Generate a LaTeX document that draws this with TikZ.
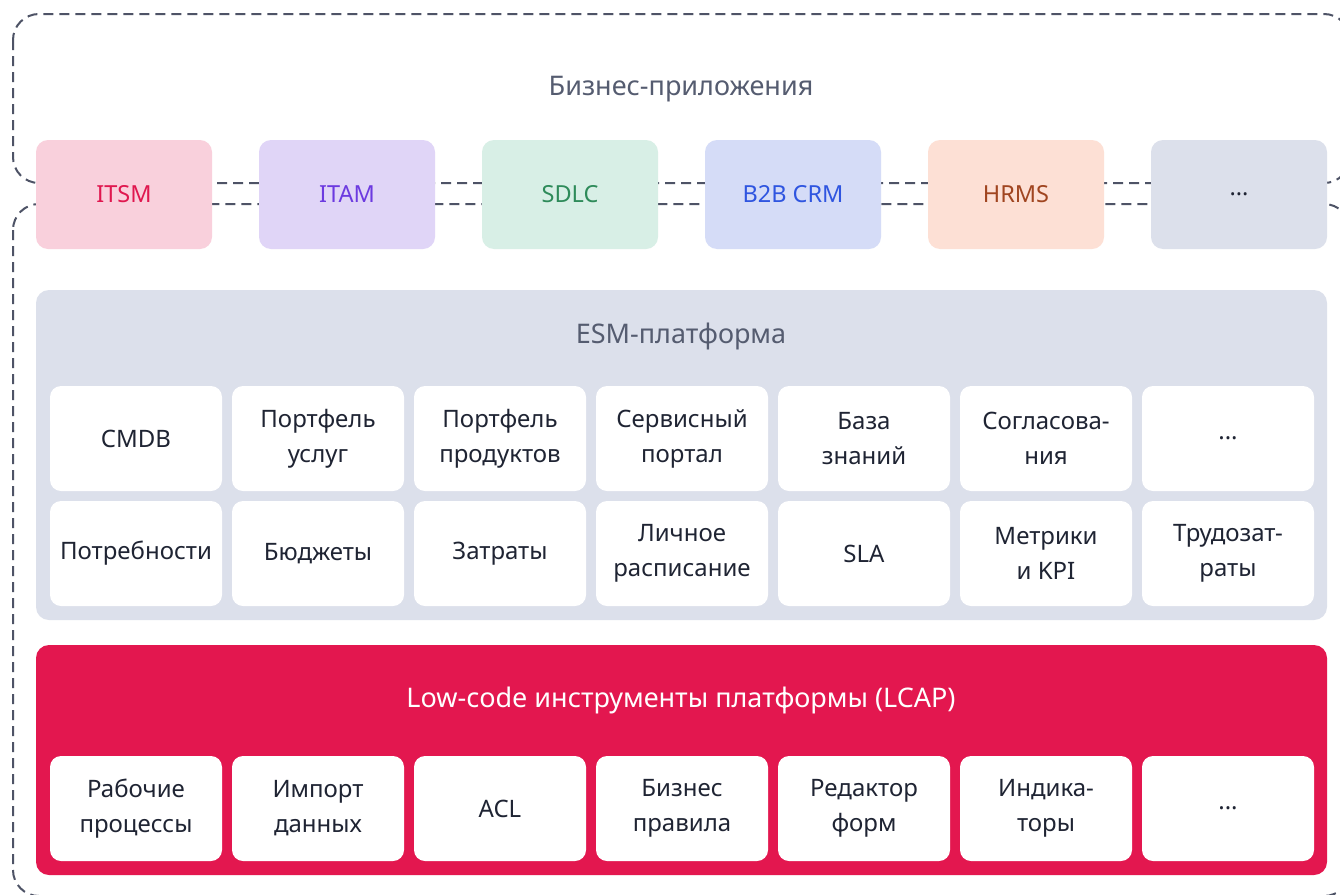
\documentclass[tikz,border=0pt]{standalone}
\usepackage{fontspec}
\setmainfont{Noto Sans}
\definecolor{dashc}{HTML}{4E5366}
\definecolor{titlec}{HTML}{555C70}
\definecolor{inkc}{HTML}{1F2433}
\definecolor{panelc}{HTML}{DCE0EB}
\definecolor{lcapc}{HTML}{E3174F}
\definecolor{itsmf}{HTML}{F9D0DC}\definecolor{itsmt}{HTML}{E0174F}
\definecolor{itamf}{HTML}{E0D5F7}\definecolor{itamt}{HTML}{6C3AE0}
\definecolor{sdlcf}{HTML}{D8EFE6}\definecolor{sdlct}{HTML}{2E8B5A}
\definecolor{crmf}{HTML}{D5DCF7}\definecolor{crmt}{HTML}{2F55E0}
\definecolor{hrmsf}{HTML}{FDE0D5}\definecolor{hrmst}{HTML}{A04520}
\tikzset{
  dashline/.style={draw=dashc,line width=2pt,dash pattern=on 10pt off 6pt,rounded corners=26pt},
  appbox/.style={rounded corners=12pt,minimum width=176pt,minimum height=109pt,inner sep=0pt,
    font=\fontsize{23.5}{30}\selectfont},
  cell/.style={fill=white,rounded corners=11pt,minimum width=172pt,minimum height=105pt,inner sep=0pt,
    align=center,text=inkc,font=\fontsize{24}{35}\selectfont},
  panel/.style={rounded corners=13pt,inner sep=0pt},
  paneltitle/.style={inner sep=0pt,font=\fontsize{27}{32}\selectfont}
}
\begin{document}
\begin{tikzpicture}[x=1pt,y=-1pt]
\useasboundingbox (0,0) rectangle (1340,894);
\clip (0,0) rectangle (1340,894);
\fill[white] (0,0) rectangle (1340,894);
% dashed regions
\draw[dashline] (13,14) rectangle (1350,183);
\draw[dashline] (13,204) rectangle (1350,896);
\node[paneltitle,text=titlec] (tbiz) at (681,89) {Бизнес-приложения};
% application boxes
\node[appbox,fill=itsmf,text=itsmt] (itsm) at (124,194.5) {ITSM};
\node[appbox,fill=itamf,text=itamt] (itam) at (347,194.5) {ITAM};
\node[appbox,fill=sdlcf,text=sdlct] (sdlc) at (570,194.5) {SDLC};
\node[appbox,fill=crmf,text=crmt] (crm) at (793,194.5) {B2B CRM};
\node[appbox,fill=hrmsf,text=hrmst] (hrms) at (1016,194.5) {HRMS};
\node[appbox,fill=panelc,text=inkc] (appmore) at (1239,194.5) {...};
% ESM panel
\fill[panel,panelc] (36,290) rectangle (1327,620);
\node[paneltitle,text=titlec] (tesm) at (681,336) {ESM-платформа};
\node[cell] (e11) at (136,438.5) {CMDB};
\node[cell] (e12) at (318,438.5) {Портфель\\услуг};
\node[cell] (e13) at (500,438.5) {Портфель\\продуктов};
\node[cell] (e14) at (682,438.5) {Сервисный\\портал};
\node[cell] (e15) at (864,438.5) {База\\знаний};
\node[cell] (e16) at (1046,438.5) {Согласова-\\ния};
\node[cell] (e17) at (1228,438.5) {...};
\node[cell] (e21) at (136,553.5) {Потребности};
\node[cell] (e22) at (318,553.5) {Бюджеты};
\node[cell] (e23) at (500,553.5) {Затраты};
\node[cell] (e24) at (682,553.5) {Личное\\расписание};
\node[cell] (e25) at (864,553.5) {SLA};
\node[cell] (e26) at (1046,553.5) {Метрики\\и KPI};
\node[cell] (e27) at (1228,553.5) {Трудозат-\\раты};
% LCAP panel
\fill[panel,lcapc] (36,645) rectangle (1327,875);
\node[paneltitle,text=white] (tlcap) at (681,700) {Low-code инструменты платформы (LCAP)};
\node[cell] (l1) at (136,808.5) {Рабочие\\процессы};
\node[cell] (l2) at (318,808.5) {Импорт\\данных};
\node[cell] (l3) at (500,808.5) {ACL};
\node[cell] (l4) at (682,808.5) {Бизнес\\правила};
\node[cell] (l5) at (864,808.5) {Редактор\\форм};
\node[cell] (l6) at (1046,808.5) {Индика-\\торы};
\node[cell] (l7) at (1228,808.5) {...};
\end{tikzpicture}
\end{document}
